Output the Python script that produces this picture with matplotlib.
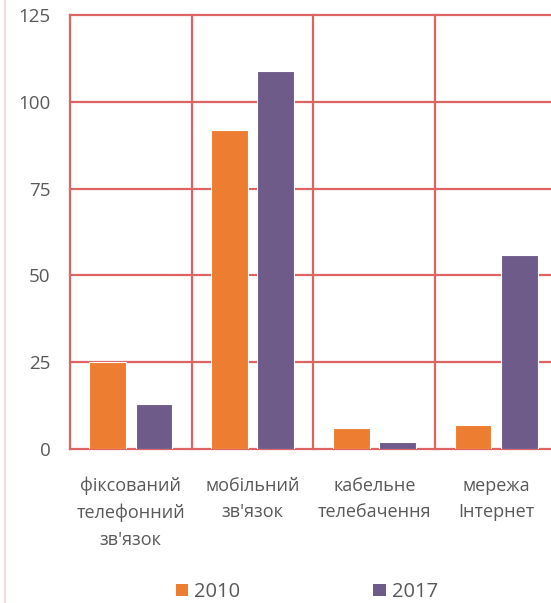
import matplotlib
matplotlib.use("Agg")
import matplotlib.pyplot as plt
from matplotlib.lines import Line2D
from matplotlib.patches import Patch
import numpy as np

categories = ["фіксований\nтелефонний\nзв'язок", "мобільний\nзв'язок", "кабельне\nтелебачення", "мережа\nІнтернет"]
series_names = ["2010", "2017"]
values_2010 = [25, 92, 6, 7]
values_2017 = [13, 109, 2, 56]
yticks = [0, 25, 50, 75, 100, 125]

plt.rcParams['font.family'] = ['Open Sans', 'DejaVu Sans']

W, H = 551, 603
fig = plt.figure(figsize=(W/100, H/100), dpi=100)
ax = fig.add_axes([70/W, 1-449/H, (557-70)/W, (449-15)/H])

x = np.arange(len(categories))
c1, c2 = '#ED7D31', '#6E5B8A'
grid = '#DE6464'
ax.bar(x - 0.19, values_2010, width=0.30, color=c1, edgecolor='white', linewidth=0.8, zorder=3)
ax.bar(x + 0.19, values_2017, width=0.30, color=c2, edgecolor='white', linewidth=0.8, zorder=3)

ax.set_xlim(-0.5, len(categories) - 0.5)
ax.set_ylim(0, 125)
for yv in yticks:
    ax.axhline(yv, color=grid, lw=1.6, zorder=1, clip_on=False)
for xv in np.arange(-0.5, len(categories), 1.0):
    ax.axvline(xv, color=grid, lw=1.6, zorder=1, clip_on=False)

for s in ax.spines.values():
    s.set_visible(False)

ax.set_yticks(yticks)
ax.set_yticklabels([str(v) for v in yticks])
ax.set_xticks(x)
ax.set_xticklabels(categories, linespacing=1.6)
ax.tick_params(axis='both', length=0, labelcolor='#595959')
ax.tick_params(axis='y', pad=14, labelsize=13.5)
ax.tick_params(axis='x', pad=20, labelsize=13)

handles = [Patch(facecolor=c1), Patch(facecolor=c2)]
fig.legend(handles, series_names, loc='center', bbox_to_anchor=(307/W, 1-592/H),
           ncol=2, frameon=False, fontsize=14.5, labelcolor='#595959',
           handlelength=0.6, handleheight=0.6, handletextpad=0.3, columnspacing=6.6,
           borderpad=0.1)

fig.add_artist(Line2D([5/W, 5/W], [0, 1], color='#F6D5D8', lw=1.2))

fig.savefig("out.png", dpi=100)
